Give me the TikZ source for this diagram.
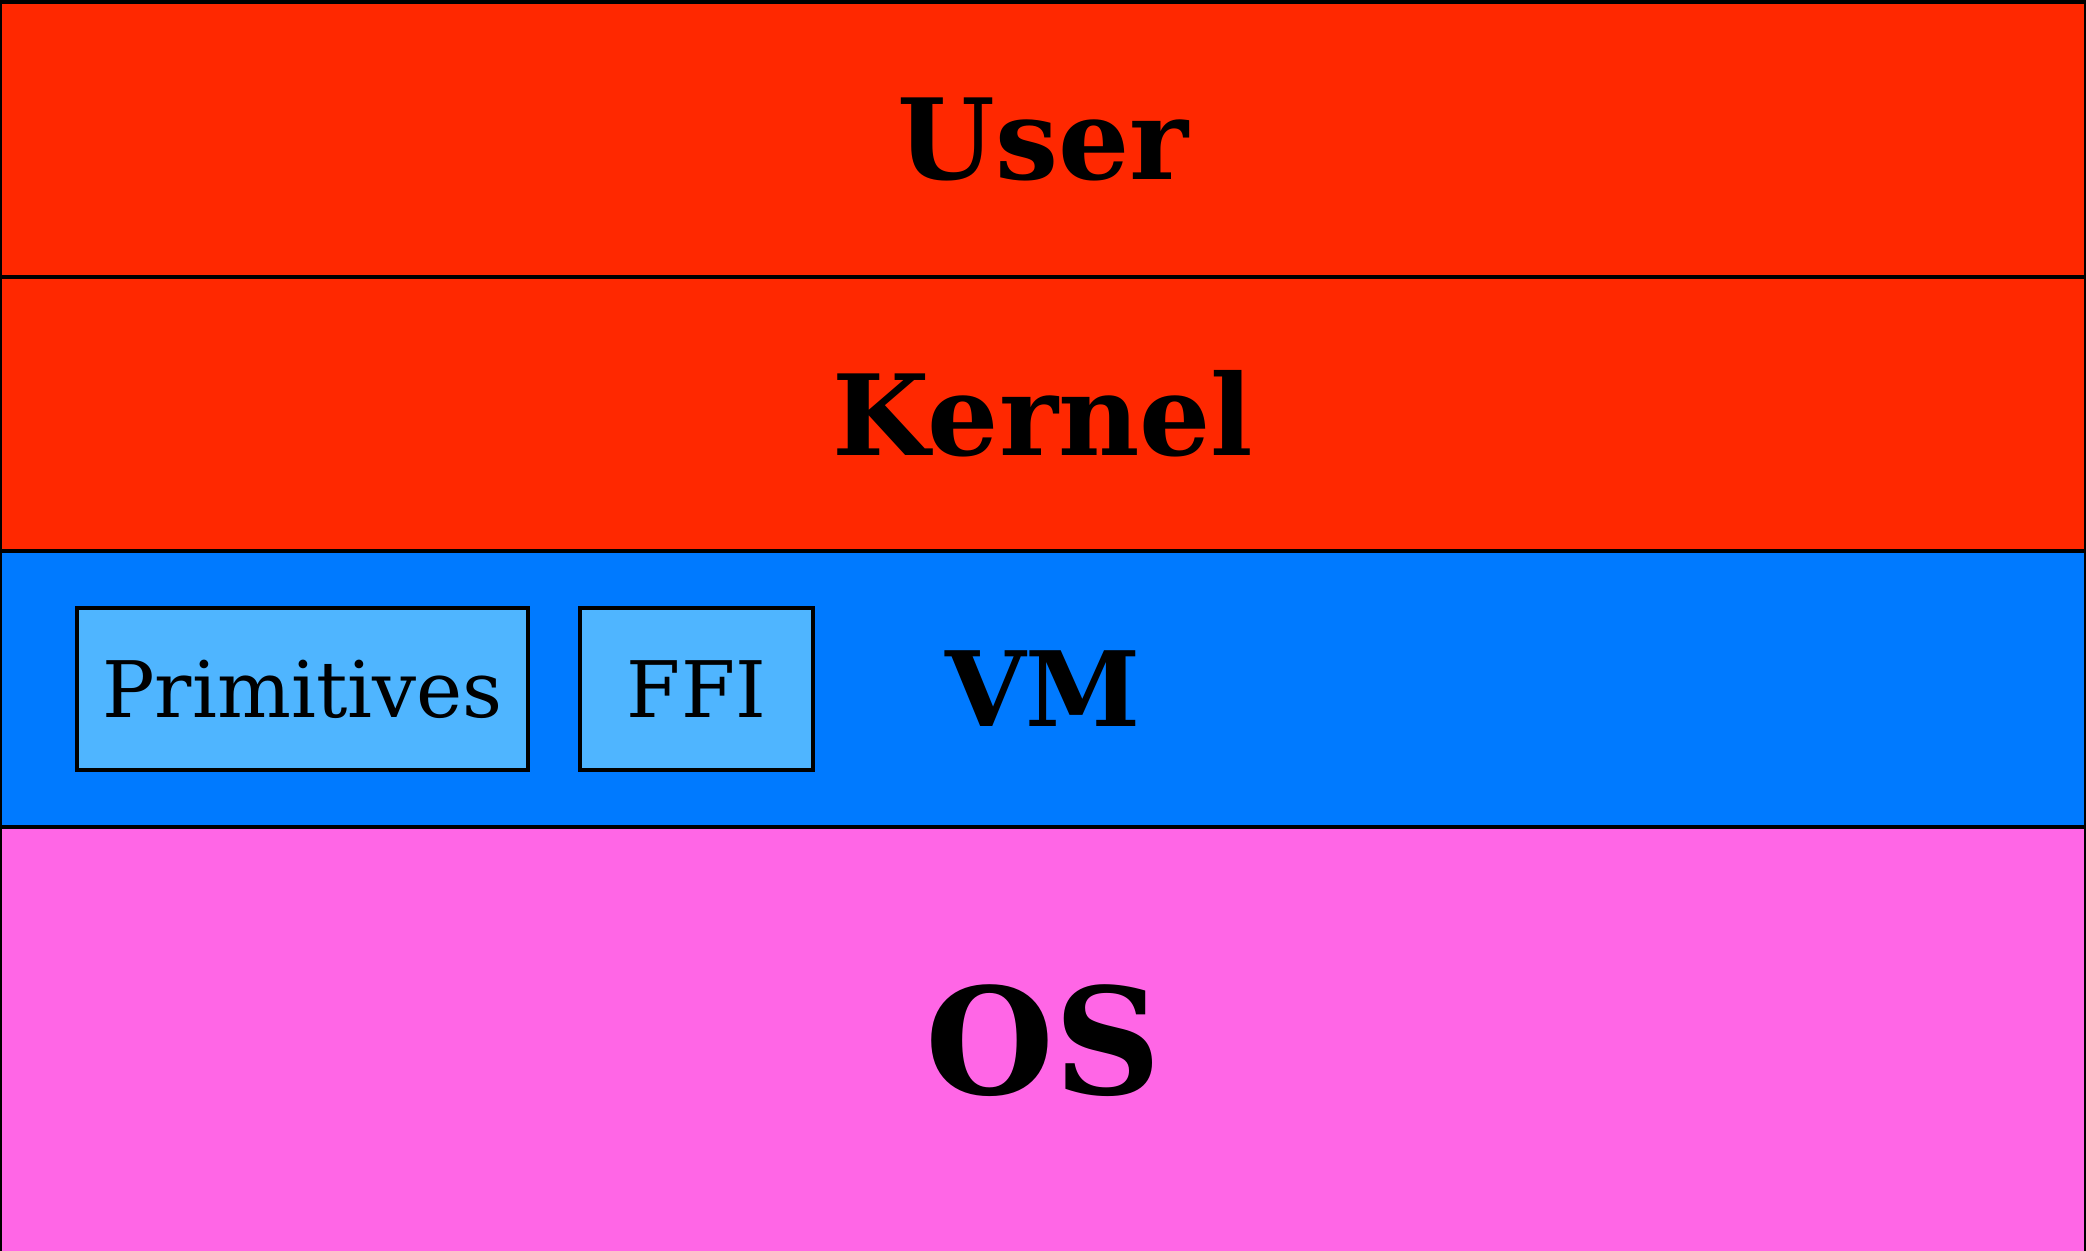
\documentclass[tikz,border=0pt]{standalone}
\usepackage{fontspec}
\setmainfont{DejaVu Serif}
\definecolor{userred}{RGB}{255,40,0}
\definecolor{vmblue}{RGB}{0,122,255}
\definecolor{boxblue}{RGB}{79,181,255}
\definecolor{ospink}{RGB}{255,102,230}
\begin{document}
\begin{tikzpicture}[x=0.5pt,y=-0.5pt,
  band/.style={draw=black, line width=2pt, inner sep=0pt, outer sep=0pt, minimum width=1043pt, font=\bfseries\fontsize{56}{66}\selectfont},
  compbox/.style={draw=black, line width=1.6pt, fill=boxblue, inner sep=0pt, outer sep=0pt, minimum height=81pt, font=\fontsize{39}{46}\selectfont}]
\useasboundingbox (0,0) rectangle (2086,1251);
\node[band, fill=userred, minimum height=137.5pt] (user) at (1043,139.5) {User};
\node[band, fill=userred, minimum height=137pt] (kernel) at (1043,414) {Kernel};
\node[band, fill=vmblue, minimum height=138pt, font=\bfseries\fontsize{52}{62}\selectfont] (vm) at (1043,689) {VM};
\node[band, fill=ospink, minimum height=214pt, font=\bfseries\fontsize{74}{88}\selectfont] (os) at (1043,1041) {OS};
\node[compbox, minimum width=225.5pt] (prim) at (302.5,689) {Primitives};
\node[compbox, minimum width=116.5pt] (ffi) at (696.5,689) {FFI};
\end{tikzpicture}
\end{document}
